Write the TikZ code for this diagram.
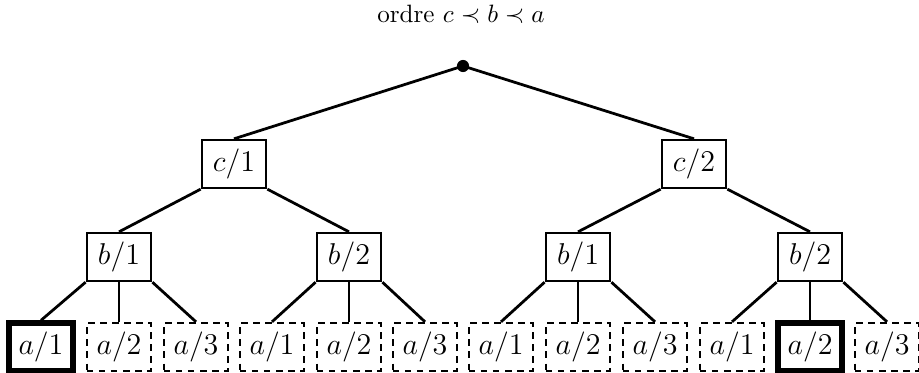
\documentclass[tikz,border=0pt]{standalone}
\usepackage{amsmath}
\usetikzlibrary{positioning}

\begin{document}
\begin{tikzpicture}[
    x=0.014cm, y=-0.014cm,
    box/.style={rectangle, draw, line width=1pt, minimum width=0.9cm, minimum height=0.67cm, inner sep=0pt, fill=white, font=\large},
    leaf/.style={box, dash pattern=on 2.6pt off 2.2pt},
    chosen/.style={box, line width=2.2pt},
    edge/.style={line width=1.1pt}
]
    \useasboundingbox (0,0) rectangle (919,373);
    \node (title) at (461,14) {ordre $c \prec b \prec a$};
    \node[circle, fill, inner sep=0pt, minimum size=0.17cm] (root) at (463,66) {};

    \node[box] (c1) at (234,164) {$c/1$};
    \node[box] (c2) at (694,164) {$c/2$};

    \node[box] (b11) at (119,257) {$b/1$};
    \node[box] (b12) at (349,257) {$b/2$};
    \node[box] (b21) at (578,257) {$b/1$};
    \node[box] (b22) at (810,257) {$b/2$};

    % feuilles
    \node[chosen] (a111) at (41,347) {$a/1$};
    \node[leaf] (a112) at (119,347) {$a/2$};
    \node[leaf] (a113) at (196,347) {$a/3$};
    \node[leaf] (a121) at (272,347) {$a/1$};
    \node[leaf] (a122) at (349,347) {$a/2$};
    \node[leaf] (a123) at (425,347) {$a/3$};
    \node[leaf] (a211) at (501,347) {$a/1$};
    \node[leaf] (a212) at (578,347) {$a/2$};
    \node[leaf] (a213) at (655,347) {$a/3$};
    \node[leaf] (a221) at (732,347) {$a/1$};
    \node[chosen] (a222) at (810,347) {$a/2$};
    \node[leaf] (a223) at (887,347) {$a/3$};

    \draw[edge] (root.center) -- (c1.north);
    \draw[edge] (root.center) -- (c2.north);

    \draw[edge] (c1.south west) -- (b11.north);
    \draw[edge] (c1.south east) -- (b12.north);
    \draw[edge] (c2.south west) -- (b21.north);
    \draw[edge] (c2.south east) -- (b22.north);

    \foreach \p in {11,12,21,22} {
        \draw[edge] (b\p.south west) -- (a\p1.north);
        \draw[edge] (b\p.south) -- (a\p2.north);
        \draw[edge] (b\p.south east) -- (a\p3.north);
    }
\end{tikzpicture}
\end{document}
